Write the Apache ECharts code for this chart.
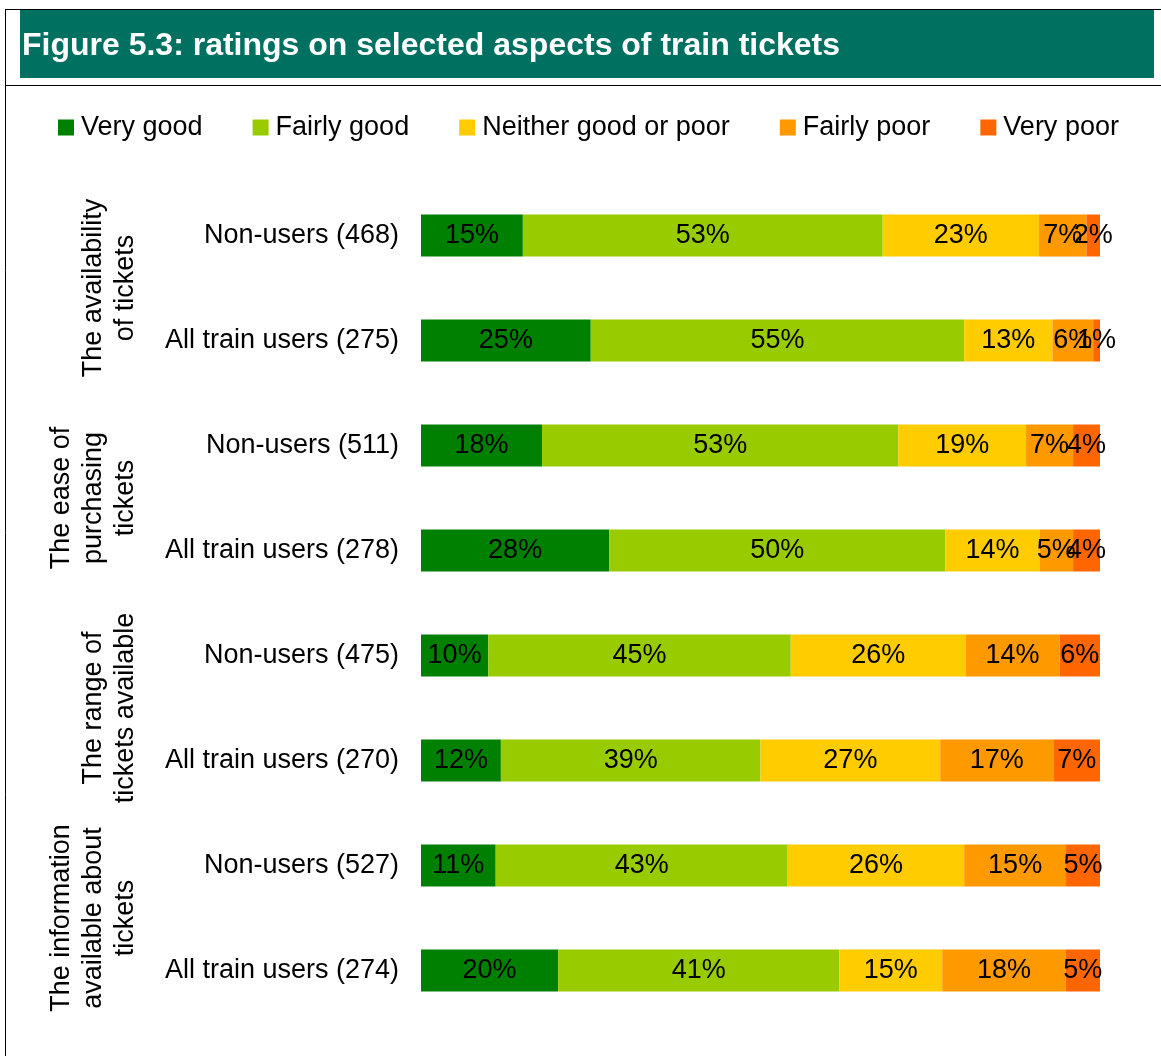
<!DOCTYPE html>
<html>
<head>
<meta charset="utf-8">
<script src="https://cdn.jsdelivr.net/npm/echarts@6/dist/echarts.min.js"></script>
<style>
  html, body { margin: 0; padding: 0; background: #fff; }
  #chart { width: 1161px; height: 1056px; }
</style>
</head>
<body>
<div id="chart"></div>
<script>
// rows, top to bottom
const categories = [
  'Non-users (468)', 'All train users (275)',
  'Non-users (511)', 'All train users (278)',
  'Non-users (475)', 'All train users (270)',
  'Non-users (527)', 'All train users (274)'
];
const groups = [
  'The availability\nof tickets',
  'The ease of\npurchasing\ntickets',
  'The range of\ntickets available',
  'The information\navailable about\ntickets'
];
const ratingNames = ['Very good', 'Fairly good', 'Neither good or poor', 'Fairly poor', 'Very poor'];
const ratingColors = ['#008000', '#99CC00', '#FFCC00', '#FF9900', '#FF6600'];

const veryGood   = [15, 25, 18, 28, 10, 12, 11, 20];
const fairlyGood = [53, 55, 53, 50, 45, 39, 43, 41];
const neither    = [23, 13, 19, 14, 26, 27, 26, 15];
const fairlyPoor = [7, 6, 7, 5, 14, 17, 15, 18];
const veryPoor   = [2, 1, 4, 4, 6, 7, 5, 5];

const allValues = [veryGood, fairlyGood, neither, fairlyPoor, veryPoor];
// rounded percentages don't always add to 100, so scale each row to fill the bar
const rowTotals = categories.map((c, i) => allValues.reduce((s, arr) => s + arr[i], 0));

const FONT = "'Liberation Sans', Arial, sans-serif";
const FS = 27;

let myChart = echarts.init(document.getElementById('chart'));

myChart.setOption({
  animation: false,
  title: {
    text: 'Figure 5.3: ratings on selected aspects of train tickets',
    left: 22,
    top: 30,
    padding: 0,
    textStyle: { color: '#fff', fontSize: 32, fontWeight: 'bold', fontFamily: FONT, lineHeight: 32 }
  },
  legend: {
    left: 58,
    top: 114,
    padding: 0,
    itemWidth: 16,
    itemHeight: 16,
    itemGap: 50,
    icon: 'rect',
    textStyle: { color: '#000', fontSize: FS, fontFamily: FONT, lineHeight: 24, padding: [0, 0, 0, 2] },
    data: ratingNames
  },
  grid: { left: 421, right: 61, top: 183, bottom: 33 },
  xAxis: { type: 'value', min: 0, max: 100, show: false },
  yAxis: {
    type: 'category',
    inverse: true,
    data: categories,
    axisLine: { show: false },
    axisTick: { show: false },
    axisLabel: { color: '#000', fontSize: FS, fontFamily: FONT, margin: 22 }
  },
  series: allValues.map((arr, s) => ({
    name: ratingNames[s],
    type: 'bar',
    stack: 'total',
    barWidth: 42,
    itemStyle: { color: ratingColors[s] },
    label: {
      show: true,
      position: 'inside',
      color: '#000',
      fontSize: FS,
      fontFamily: FONT,
      formatter: (p) => arr[p.dataIndex] + '%'
    },
    data: arr.map((v, i) => v / rowTotals[i] * 100)
  }))
});

// frame, title bar and the rotated group labels
const graphics = [
  { type: 'rect', shape: { x: 20, y: 10, width: 1134, height: 68 }, style: { fill: '#007060' }, z: -1 },
  { type: 'line', shape: { x1: 5, y1: 9.5, x2: 1161, y2: 9.5 }, style: { stroke: '#000', lineWidth: 1 } },
  { type: 'line', shape: { x1: 5.5, y1: 9, x2: 5.5, y2: 1056 }, style: { stroke: '#000', lineWidth: 1 } },
  { type: 'line', shape: { x1: 5, y1: 85.5, x2: 1161, y2: 85.5 }, style: { stroke: '#000', lineWidth: 1 } }
];
groups.forEach((g, i) => {
  const y1 = myChart.convertToPixel({ yAxisIndex: 0 }, 2 * i);
  const y2 = myChart.convertToPixel({ yAxisIndex: 0 }, 2 * i + 1);
  graphics.push({
    type: 'text',
    x: 142,
    y: (y1 + y2) / 2,
    rotation: Math.PI / 2,
    style: {
      text: g,
      fill: '#000',
      fontSize: FS,
      fontFamily: FONT,
      lineHeight: 32,
      align: 'center',
      verticalAlign: 'bottom'
    }
  });
});
myChart.setOption({ graphic: graphics });
</script>
</body>
</html>
